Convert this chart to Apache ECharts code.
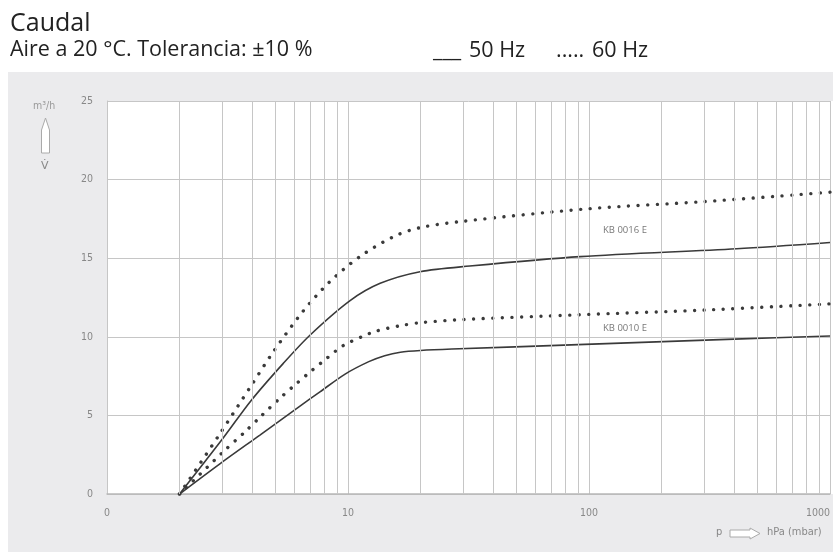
<!DOCTYPE html>
<html>
<head>
<meta charset="utf-8">
<script src="https://cdn.jsdelivr.net/npm/echarts@6/dist/echarts.min.js"></script>
<style>
  html, body { margin: 0; padding: 0; background: #fff; }
  #chart { width: 833px; height: 552px; }
</style>
</head>
<body>
<div id="chart"></div>
<script>
// presión (hPa) / caudal (m³/h)
const kb16_50 = [[2, 0], [2.99, 3.43], [3.98, 5.98], [5.39, 8.31], [6.95, 10.1], [10.2, 12.3], [13.6, 13.4], [19.9, 14.14], [32, 14.5], [92, 15.1], [410, 15.6], [1000, 16.0]]
const kb16_60 = [[2, 0], [2.9, 3.69], [3.98, 6.93], [4.9, 9.05], [6.52, 11.64], [8.4, 13.5], [11.2, 15.1], [15.6, 16.4], [20, 16.95], [30, 17.35], [100, 18.15], [300, 18.6], [1000, 19.2]]
const kb10_50 = [[2, 0], [2.94, 1.92], [4.31, 3.75], [6.32, 5.59], [7.65, 6.5], [9.73, 7.63], [12.2, 8.42], [14.2, 8.8], [16.5, 9.02], [20, 9.13], [27, 9.22], [90, 9.5], [400, 9.85], [1000, 10.05]]
const kb10_60 = [[2, 0], [3.04, 2.69], [3.74, 3.96], [4.31, 4.88], [5.3, 6.19], [6.13, 7.04], [7.07, 7.85], [8.16, 8.63], [9.55, 9.44], [11.4, 10.0], [13, 10.35], [16.4, 10.7], [20, 10.9], [30, 11.1], [90, 11.4], [300, 11.7], [1000, 12.1]]

const xTickLabels = { 1: '0', 10: '10', 100: '100', 1000: '1000' }
const minorLines = [2, 3, 4, 5, 6, 7, 8, 9, 20, 30, 40, 50, 60, 70, 80, 90, 200, 300, 400, 500, 600, 700, 800, 900]
const curveLabels = [
  { name: 'KB 0016 E', value: [141, 16.8] },
  { name: 'KB 0010 E', value: [141, 10.55] }
]

const chart = echarts.init(document.getElementById('chart'))

const lineColor = '#3a3a3a'
const gridColor = '#c6c6c6'
const narrow = '"Liberation Sans Narrow", "DejaVu Sans Condensed", sans-serif'
const sans = '"Open Sans", sans-serif'
const dotted = { color: lineColor, width: 3.4, type: [0.01, 9.6], cap: 'round' }
const solid = { color: lineColor, width: 1.6 }

const option = {
  backgroundColor: '#fff',
  animation: false,
  graphic: [
    { type: 'rect', z: -10, shape: { x: 8, y: 72, width: 830, height: 480 }, style: { fill: '#ebebed' } },
    { type: 'rect', z: -9, shape: { x: 107, y: 101, width: 726, height: 393 }, style: { fill: '#fff' } },
    { type: 'text', left: 10, top: 11, style: { text: 'Caudal', font: '25px ' + sans, fill: '#222' } },
    { type: 'text', left: 10, top: 39, style: { text: 'Aire a 20 °C. Tolerancia: ±10 %', font: '21.5px ' + sans, fill: '#222' } },
    { type: 'text', left: 433, top: 40, style: { text: '___', font: '21.5px ' + sans, fill: '#222' } },
    { type: 'text', left: 469, top: 40, style: { text: '50 Hz', font: '21.5px ' + sans, fill: '#222' } },
    { type: 'text', left: 556, top: 40, style: { text: '.....', font: '21.5px ' + sans, fill: '#222' } },
    { type: 'text', left: 592, top: 40, style: { text: '60 Hz', font: '21.5px ' + sans, fill: '#222' } },
    { type: 'text', left: 33, top: 101, style: { text: 'm³/h', font: '10.5px ' + narrow, fill: '#999' } },
    {
      type: 'polygon', shape: { points: [[45.5, 118], [49.5, 130], [49.5, 153], [41.5, 153], [41.5, 130]] },
      style: { fill: '#fff', stroke: '#aaa', lineWidth: 1 }
    },
    { type: 'text', left: 41, top: 161, style: { text: 'V̇', font: '11px "DejaVu Sans", sans-serif', fill: '#888' } },
    { type: 'text', left: 716, top: 527, style: { text: 'p', font: '11px ' + narrow, fill: '#888' } },
    {
      type: 'polygon', shape: { points: [[730, 530], [750, 530], [750, 528], [760, 533.5], [750, 539], [750, 537], [730, 537]] },
      style: { fill: '#fff', stroke: '#aaa', lineWidth: 1 }
    },
    { type: 'text', left: 767, top: 527, style: { text: 'hPa (mbar)', font: '11px ' + narrow, fill: '#888' } }
  ],
  grid: {
    left: 107, right: 3, top: 101, bottom: 58,
    outerBoundsMode: 'none',
    show: false
  },
  xAxis: {
    type: 'log',
    logBase: 10,
    min: 1,
    max: 1000,
    axisLine: { show: true, lineStyle: { color: '#b8b8b8', width: 1.5 } },
    axisTick: { show: false },
    splitLine: { show: true, lineStyle: { color: gridColor, width: 1 } },
    axisLabel: {
      margin: 14,
      color: '#888',
      fontSize: 10.5,
      fontFamily: narrow,
      alignMaxLabel: 'right',
      formatter: v => xTickLabels[Math.round(v)] || ''
    }
  },
  yAxis: {
    type: 'value',
    min: 0,
    max: 25,
    interval: 5,
    axisLine: { show: true, lineStyle: { color: gridColor } },
    axisTick: { show: false },
    splitLine: { lineStyle: { color: gridColor, width: 1 } },
    axisLabel: { margin: 14, color: '#888', fontSize: 10.5, fontFamily: narrow }
  },
  series: [
    {
      type: 'line', data: kb16_50, smooth: 0.3, symbol: 'none', lineStyle: solid, z: 3,
      markLine: {
        silent: true, symbol: 'none', label: { show: false },
        lineStyle: { color: gridColor, width: 1, type: 'solid' },
        data: minorLines.map(v => ({ xAxis: v }))
      }
    },
    { type: 'line', data: kb16_60, smooth: 0.3, symbol: 'none', lineStyle: dotted, z: 3 },
    { type: 'line', data: kb10_50, smooth: 0.3, symbol: 'none', lineStyle: solid, z: 3 },
    { type: 'line', data: kb10_60, smooth: 0.3, symbol: 'none', lineStyle: dotted, z: 3 },
    {
      type: 'scatter', data: curveLabels, symbolSize: 1, z: 4,
      itemStyle: { color: 'rgba(0,0,0,0)' },
      label: {
        show: true, position: 'inside', formatter: p => p.name,
        color: '#555', fontSize: 9.5, fontFamily: sans
      }
    }
  ]
}

chart.setOption(option)
</script>
</body>
</html>
